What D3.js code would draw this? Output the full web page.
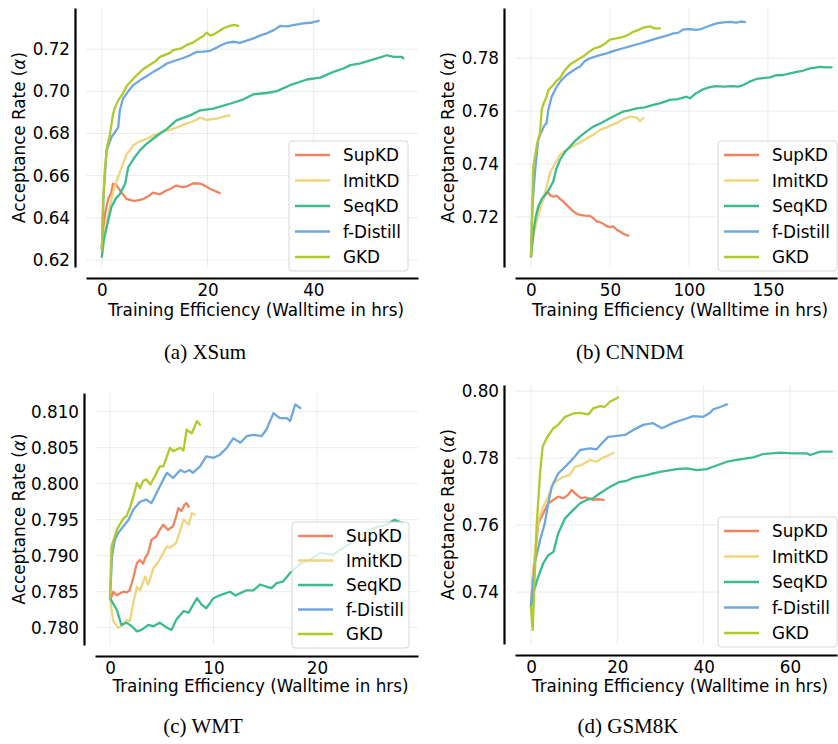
<!DOCTYPE html>
<html>
<head>
<meta charset="utf-8">
<script src="https://cdn.jsdelivr.net/npm/d3@7"></script>
<style>
  body { margin: 0; background: #fff; }
  svg { display: block; font-family: "DejaVu Sans", sans-serif; }
</style>
</head>
<body>
<svg id="chart" width="838" height="744"></svg>
<script>
// ---------- data ----------
const seriesNames = ["SupKD", "ImitKD", "SeqKD", "f-Distill", "GKD"];
const seriesColors = ["#ef8462", "#eed57e", "#3cbb8e", "#6fa8dc", "#b3c82c"];
const panelTitles = ["(a) XSum", "(b) CNNDM", "(c) WMT", "(d) GSM8K"];
const xLabel = "Training Efficiency (Walltime in hrs)";
const yLabelMain = "Acceptance Rate (";
const yLabelSym = "α";
const yLabelEnd = ")";

const xsumXTicks = [0, 20, 40];
const xsumYTicks = [0.62, 0.64, 0.66, 0.68, 0.70, 0.72];
const cnndmXTicks = [0, 50, 100, 150];
const cnndmYTicks = [0.72, 0.74, 0.76, 0.78];
const wmtXTicks = [0, 10, 20];
const wmtYTicks = [0.780, 0.785, 0.790, 0.795, 0.800, 0.805, 0.810];
const gsmXTicks = [0, 20, 40, 60];
const gsmYTicks = [0.74, 0.76, 0.78, 0.80];

// XSum
const supkdXsum = [[0,0.626],[0.3,0.636],[0.6,0.642],[1.2,0.649],[1.8,0.652],[2.1,0.6562],[2.8,0.6553],[3.7,0.652],[4.7,0.649],[5.4,0.6484],[6.2,0.6481],[7.0,0.6484],[7.8,0.6489],[8.8,0.6503],[9.7,0.652],[10.4,0.6515],[11,0.6512],[12.0,0.6527],[12.9,0.6537],[14.1,0.6553],[15.4,0.6545],[16.3,0.6552],[17.3,0.6564],[18.1,0.6563],[18.9,0.656],[19.8,0.6548],[20.5,0.6537],[21.4,0.6527],[22.3,0.6518]];
const imitkdXsum = [[0,0.626],[0.6,0.6338],[1.5,0.645],[2.1,0.652],[2.8,0.6576],[4.0,0.6656],[4.7,0.6703],[5.3,0.672],[5.9,0.6743],[7.2,0.6763],[8.5,0.6775],[9.7,0.679],[11,0.6802],[12.3,0.6814],[13.5,0.6822],[14.8,0.6835],[16,0.6848],[17.3,0.6858],[18.6,0.6876],[19.8,0.6864],[20.8,0.6868],[21.7,0.687],[23,0.688],[24.2,0.6886]];
const seqkdXsum = [[0,0.6215],[0.4,0.630],[0.9,0.6354],[1.8,0.645],[2.6,0.649],[3.4,0.6513],[4.4,0.6562],[5.0,0.664],[6.0,0.668],[7.2,0.672],[8.4,0.675],[9.7,0.6775],[11,0.680],[12.3,0.6822],[14.1,0.6862],[16.7,0.6886],[18.6,0.691],[21.1,0.6918],[24.2,0.6941],[26.8,0.6962],[28.7,0.6986],[31.2,0.6992],[33.1,0.7001],[35.6,0.7029],[38.8,0.7056],[41.3,0.7065],[43.8,0.7092],[45.7,0.7108],[47,0.7124],[48.9,0.7132],[51.4,0.7151],[53.9,0.7171],[55.2,0.7163],[56.8,0.7163],[57,0.7156]];
const fdistillXsum = [[0,0.625],[0.3,0.650],[0.9,0.672],[1.8,0.6782],[2.6,0.681],[3.1,0.683],[3.4,0.691],[4.0,0.6965],[5.0,0.700],[5.9,0.7029],[7.2,0.7052],[8.4,0.707],[9.7,0.7092],[11,0.711],[12.3,0.7132],[13.8,0.7145],[15.4,0.7158],[16.6,0.717],[17.9,0.7187],[19.2,0.7188],[20.5,0.7192],[22.3,0.7215],[23.6,0.723],[24.9,0.7235],[26.1,0.723],[27.4,0.724],[28.7,0.7251],[30,0.7265],[31.2,0.7275],[32.5,0.729],[33.7,0.731],[35,0.7308],[36.2,0.7314],[38.1,0.7322],[39.5,0.7325],[41,0.7334]];
const gkdXsum = [[0,0.625],[0.3,0.650],[0.6,0.664],[1.0,0.674],[1.5,0.679],[2.1,0.689],[2.5,0.6925],[3.1,0.6957],[4.0,0.699],[4.7,0.7025],[5.6,0.705],[6.6,0.7076],[7.8,0.7105],[8.5,0.7116],[10,0.714],[11,0.7163],[12.9,0.7182],[13.5,0.7195],[15,0.7203],[16,0.7219],[17.3,0.7232],[18.4,0.725],[19.2,0.7262],[19.8,0.7278],[20.5,0.7265],[21.2,0.727],[21.7,0.7278],[23,0.7299],[24.2,0.731],[25,0.7315],[25.8,0.731]];

// CNNDM
const supkdCnndm = [[0,0.705],[1.0,0.712],[2.5,0.7164],[4.0,0.720],[5.7,0.7239],[7.2,0.726],[8.9,0.7284],[11,0.7292],[12.5,0.728],[14.1,0.7277],[16.3,0.728],[18.4,0.7268],[20.5,0.7258],[23.5,0.724],[26.8,0.7221],[29,0.7212],[31,0.7208],[34,0.7205],[37.3,0.7204],[39.5,0.7195],[41.6,0.7183],[43.7,0.718],[45.8,0.7174],[48,0.7165],[50,0.7162],[52.1,0.7164],[54.2,0.7152],[56.3,0.7145],[59,0.7135],[61.6,0.7129]];
const imitkdCnndm = [[0,0.705],[2.0,0.714],[4.0,0.7195],[5.7,0.7227],[7.8,0.727],[9.9,0.7315],[12,0.7365],[15,0.740],[18.4,0.7434],[21.5,0.745],[24.7,0.746],[29,0.7475],[33.1,0.7488],[36,0.750],[39.4,0.751],[43.7,0.7529],[48,0.7538],[50,0.7545],[54.2,0.7554],[58,0.7568],[62.7,0.7579],[66.9,0.7575],[69,0.7562],[71.1,0.7573]];
const seqkdCnndm = [[0,0.705],[1.5,0.7139],[3.0,0.720],[4.6,0.7239],[7,0.727],[9.9,0.729],[12,0.731],[14.1,0.7334],[16,0.738],[18.4,0.7416],[21.5,0.7445],[24.7,0.7466],[28,0.7487],[31,0.7503],[35,0.7522],[39.4,0.7541],[43.5,0.7552],[47.9,0.7566],[53,0.7582],[58.4,0.7598],[62,0.7602],[66.9,0.761],[72,0.7614],[77.4,0.7623],[82,0.763],[88,0.7642],[93,0.7645],[98.5,0.7654],[100.6,0.7648],[104,0.7665],[109,0.7682],[113,0.769],[117.5,0.7694],[122,0.7692],[128,0.7694],[131,0.7692],[134.4,0.7698],[138,0.771],[142.8,0.7721],[147,0.7724],[151.3,0.7727],[155,0.7735],[159.7,0.7736],[164,0.7742],[168.2,0.7748],[172,0.7752],[176.6,0.7761],[180,0.7764],[183,0.7767],[187,0.7765],[190.3,0.7765]];
const fdistillCnndm = [[0,0.705],[1.0,0.725],[2.5,0.7365],[4.6,0.7491],[6.5,0.752],[8.5,0.7545],[9.9,0.7554],[11,0.7605],[13.1,0.7654],[16.3,0.7692],[19,0.7715],[22.6,0.7736],[26,0.775],[28.5,0.776],[31,0.7767],[34,0.7788],[37.3,0.7799],[42,0.7808],[47.9,0.7818],[53,0.7828],[58.4,0.7837],[63,0.7845],[69,0.7855],[74,0.7864],[79.6,0.7874],[85,0.7883],[90.1,0.7893],[93,0.7895],[96.4,0.7908],[101,0.7909],[104,0.7906],[107,0.7908],[112,0.792],[117.5,0.7931],[122,0.7935],[126,0.7937],[130,0.7934],[133,0.7938],[135.4,0.7936]];
const gkdCnndm = [[0,0.705],[1.5,0.739],[2.5,0.7428],[4.0,0.748],[5.7,0.7516],[6.8,0.7604],[7.8,0.7625],[9.9,0.7654],[11,0.7679],[14.1,0.7698],[16.3,0.7715],[18.4,0.7725],[21,0.775],[24.7,0.7776],[28,0.7788],[31,0.7799],[34,0.781],[37.3,0.7826],[40,0.7836],[43.7,0.7843],[47,0.7855],[50,0.787],[54,0.7874],[58.4,0.788],[61,0.7886],[64.8,0.7899],[68,0.7906],[71.1,0.7915],[75.3,0.792],[78,0.7912],[81.6,0.7912]];

// WMT
const supkdWmt = [[0,0.7841],[0.16,0.7843],[0.32,0.785],[0.65,0.7845],[1.0,0.7848],[1.3,0.785],[1.6,0.7849],[1.9,0.7852],[2.25,0.7869],[2.6,0.789],[2.9,0.7894],[3.2,0.7889],[3.4,0.7897],[3.7,0.7904],[4.0,0.7922],[4.5,0.7927],[4.8,0.7936],[5.15,0.7943],[5.6,0.7936],[6.1,0.7941],[6.4,0.7955],[6.6,0.7966],[6.9,0.7962],[7.2,0.7971],[7.4,0.7973],[7.6,0.7968]];
const imitkdWmt = [[0,0.7841],[0.32,0.7809],[0.8,0.78],[1.1,0.7802],[1.6,0.7811],[1.9,0.7809],[2.25,0.7834],[2.6,0.7857],[2.9,0.7852],[3.4,0.7871],[3.7,0.786],[4.2,0.7883],[4.7,0.7892],[5.15,0.7904],[5.5,0.7913],[5.8,0.7911],[6.4,0.7918],[6.8,0.7936],[7.1,0.795],[7.6,0.7943],[7.9,0.7959],[8.2,0.7957]];
const seqkdWmt = [[0,0.7841],[0.65,0.7825],[1.1,0.7804],[1.6,0.7807],[2.1,0.7802],[2.6,0.7795],[3.05,0.7797],[3.7,0.7804],[4.2,0.7802],[4.8,0.7807],[5.5,0.78],[5.95,0.7797],[6.4,0.7811],[7.1,0.7823],[7.6,0.7821],[8.4,0.7841],[8.85,0.7832],[9.3,0.7827],[10,0.7841],[10.6,0.7845],[11.6,0.785],[12.1,0.7845],[12.6,0.7848],[13.2,0.7852],[13.85,0.7852],[14.5,0.786],[15.1,0.7857],[15.6,0.7855],[16.1,0.7862],[16.7,0.7864],[17.4,0.7876],[18.4,0.7889],[19.3,0.7894],[20.3,0.7904],[21.6,0.7901],[22.2,0.7908],[23.2,0.7917],[24.2,0.7929],[25.1,0.7936],[26.1,0.7941],[26.7,0.7943],[27.5,0.795],[28.3,0.7945]];
const fdistillWmt = [[0,0.7841],[0.2,0.790],[0.48,0.7922],[0.8,0.7932],[1.3,0.7941],[1.8,0.795],[2.25,0.7964],[2.9,0.7975],[3.5,0.7978],[4.0,0.7973],[4.5,0.7987],[5.15,0.8006],[5.5,0.8015],[6.1,0.8008],[6.8,0.8019],[7.2,0.8016],[7.7,0.8019],[8.0,0.8015],[8.7,0.8024],[9.3,0.8038],[10,0.8036],[10.6,0.804],[11.3,0.805],[11.9,0.8063],[12.6,0.8057],[13.2,0.8066],[13.85,0.8068],[14.65,0.8066],[15.1,0.8075],[15.8,0.8098],[16.4,0.8091],[17.1,0.8091],[17.4,0.8087],[17.9,0.811],[18.4,0.8105]];
const gkdWmt = [[0,0.7841],[0.16,0.7913],[0.65,0.7936],[1.3,0.7952],[1.6,0.7955],[2.0,0.797],[2.25,0.7982],[2.6,0.8001],[2.9,0.7994],[3.2,0.8004],[3.5,0.8006],[3.9,0.7999],[4.5,0.8015],[4.8,0.8024],[5.15,0.8024],[5.5,0.8038],[5.8,0.805],[6.1,0.8045],[6.5,0.8048],[6.8,0.805],[7.1,0.8046],[7.4,0.8075],[7.9,0.807],[8.4,0.8087],[8.7,0.8082]];

// GSM8K
const supkdGsm = [[0,0.7356],[0.5,0.7456],[1.7,0.7605],[2.85,0.7635],[4.0,0.7665],[5.2,0.7675],[6.3,0.7685],[7.5,0.768],[8.6,0.769],[9.4,0.7705],[10.6,0.769],[11.7,0.768],[12.5,0.7683],[13.3,0.768],[14.4,0.7675],[15.5,0.7677],[16.8,0.7675]];
const imitkdGsm = [[0,0.7356],[0.9,0.7516],[1.7,0.7615],[2.85,0.7655],[4.0,0.7685],[5.2,0.7724],[6.3,0.7734],[7.5,0.7744],[9.0,0.7749],[10.2,0.7774],[11.7,0.7779],[13.7,0.7794],[15.2,0.7789],[16.8,0.7802],[18,0.7808],[19.1,0.7816]];
const seqkdGsm = [[0,0.7356],[0.5,0.7396],[1.7,0.7446],[2.85,0.7486],[4.0,0.751],[5.2,0.752],[6.3,0.7575],[7.9,0.762],[9.4,0.764],[11.4,0.7665],[12.9,0.7675],[14.4,0.768],[16,0.7695],[18.3,0.7714],[20.6,0.7729],[22.2,0.7732],[23.7,0.7741],[26.8,0.7749],[28.3,0.7754],[29.9,0.7759],[33.8,0.7767],[36.1,0.7769],[38.4,0.7764],[40.7,0.7767],[42.2,0.7774],[45.4,0.7789],[48.4,0.7796],[51.5,0.7802],[53.8,0.7812],[57.7,0.7816],[60.8,0.7814],[63.9,0.7814],[64.7,0.7809],[67,0.7819],[69.7,0.7819]];
const fdistillGsm = [[0,0.7366],[0.9,0.7486],[2.1,0.7555],[3.2,0.7605],[4.0,0.7665],[4.8,0.7714],[6.3,0.7754],[8.3,0.7779],[9.8,0.7799],[11.4,0.7824],[13.7,0.7829],[15.2,0.7826],[16.5,0.7845],[17.9,0.7863],[19.9,0.7866],[21.8,0.7869],[23.7,0.7884],[26,0.7899],[28.3,0.7904],[30.3,0.7889],[33,0.7905],[35.3,0.7915],[37.6,0.7925],[39.9,0.7923],[41.5,0.7935],[42.2,0.7945],[44,0.7953],[45.4,0.796]];
const gkdGsm = [[0,0.7356],[0.4,0.7287],[1.3,0.7595],[2.1,0.7754],[2.7,0.7834],[3.6,0.7859],[5.2,0.7889],[6.3,0.7899],[7.9,0.7923],[9.8,0.7933],[11.4,0.7935],[13.3,0.793],[14.4,0.7948],[16,0.7955],[17.1,0.7953],[18.3,0.7968],[20.2,0.7981]];

// ---------- layout ----------
const panels = [
  { title: panelTitles[0], series: [supkdXsum, imitkdXsum, seqkdXsum, fdistillXsum, gkdXsum],
    xTicks: xsumXTicks, yTicks: xsumYTicks, xDom: [-3, 59.8], yDom: [0.6167, 0.7395], fmt: ".2f",
    plot: { l: 86, r: 418, t: 8, b: 267 }, spineOff: 11, yLabelX: 19, xLabelY: 316,
    legend: { x: 289, y: 141, w: 119, h: 130 }, caption: { x: 205, y: 359 } },
  { title: panelTitles[1], series: [supkdCnndm, imitkdCnndm, seqkdCnndm, fdistillCnndm, gkdCnndm],
    xTicks: cnndmXTicks, yTicks: cnndmYTicks, xDom: [-10.1, 193.7], yDom: [0.7011, 0.7989], fmt: ".2f",
    plot: { l: 515, r: 837, t: 8, b: 267 }, spineOff: 11, yLabelX: 448, xLabelY: 316,
    legend: { x: 718, y: 141, w: 119, h: 130 }, caption: { x: 630, y: 359 } },
  { title: panelTitles[2], series: [supkdWmt, imitkdWmt, seqkdWmt, fdistillWmt, gkdWmt],
    xTicks: wmtXTicks, yTicks: wmtYTicks, xDom: [-1.45, 29.76], yDom: [0.7776, 0.8126], fmt: ".3f",
    plot: { l: 95, r: 418, t: 393, b: 645 }, spineOff: 11, yLabelX: 19, xLabelY: 692,
    legend: { x: 292, y: 522, w: 117, h: 126 }, caption: { x: 203, y: 733 } },
  { title: panelTitles[3], series: [supkdGsm, imitkdGsm, seqkdGsm, fdistillGsm, gkdGsm],
    xTicks: gsmXTicks, yTicks: gsmYTicks, xDom: [-3.7, 70.9], yDom: [0.7245, 0.8018], fmt: ".2f",
    plot: { l: 515, r: 837, t: 385, b: 644 }, spineOff: 11, yLabelX: 448, xLabelY: 692,
    legend: { x: 718, y: 517, w: 119, h: 130 }, caption: { x: 628, y: 733 } }
];

const svg = d3.select("#chart");
const FS = 16.8;

panels.forEach(p => {
  const g = svg.append("g");
  const x = d3.scaleLinear().domain(p.xDom).range([p.plot.l, p.plot.r]);
  const y = d3.scaleLinear().domain(p.yDom).range([p.plot.b, p.plot.t]);

  // grid
  g.append("g").selectAll("line").data(p.xTicks).join("line")
    .attr("x1", d => x(d)).attr("x2", d => x(d))
    .attr("y1", p.plot.t).attr("y2", p.plot.b)
    .attr("stroke", "#ebebeb").attr("stroke-width", 1);
  g.append("g").selectAll("line").data(p.yTicks).join("line")
    .attr("y1", d => y(d)).attr("y2", d => y(d))
    .attr("x1", p.plot.l).attr("x2", p.plot.r)
    .attr("stroke", "#ebebeb").attr("stroke-width", 1);

  // lines
  const line = d3.line().x(d => x(d[0])).y(d => y(d[1]));
  p.series.forEach((s, i) => {
    g.append("path").datum(s).attr("d", line)
      .attr("fill", "none").attr("stroke", seriesColors[i])
      .attr("stroke-width", 2.3).attr("stroke-linejoin", "round").attr("stroke-linecap", "round");
  });

  // axes (offset spines)
  const ya = g.append("g").attr("transform", `translate(${p.plot.l - p.spineOff},0)`)
    .call(d3.axisLeft(y).tickValues(p.yTicks).tickFormat(d3.format(p.fmt)).tickSize(0).tickSizeOuter(0).tickPadding(5));
  const xa = g.append("g").attr("transform", `translate(0,${p.plot.b + p.spineOff})`)
    .call(d3.axisBottom(x).tickValues(p.xTicks).tickFormat(d3.format("d")).tickSize(0).tickSizeOuter(0).tickPadding(6));
  [ya, xa].forEach(a => {
    a.attr("font-family", "DejaVu Sans").attr("font-size", FS);
    a.select(".domain").attr("stroke", "#000").attr("stroke-width", 2.2);
    a.selectAll("text").attr("fill", "#000");
  });

  // axis labels
  g.append("text").attr("x", (p.plot.l + p.plot.r) / 2 + 4).attr("y", p.xLabelY)
    .attr("text-anchor", "middle").attr("font-size", FS).text(xLabel);
  const yl = g.append("text")
    .attr("transform", `translate(${p.yLabelX},${(p.plot.t + p.plot.b) / 2}) rotate(-90)`)
    .attr("text-anchor", "middle").attr("dominant-baseline", "central").attr("font-size", FS);
  yl.append("tspan").text(yLabelMain);
  yl.append("tspan").attr("font-style", "italic").text(yLabelSym);
  yl.append("tspan").text(yLabelEnd);

  // legend
  const L = p.legend;
  const lg = g.append("g");
  lg.append("rect").attr("x", L.x).attr("y", L.y).attr("width", L.w).attr("height", L.h)
    .attr("rx", 3).attr("fill", "#fff").attr("fill-opacity", 0.8)
    .attr("stroke", "#d6d6d6").attr("stroke-width", 1);
  seriesNames.forEach((n, i) => {
    const cy = L.y + 14 + i * (L.h - 28) / 4;
    lg.append("line").attr("x1", L.x + 6).attr("x2", L.x + 41).attr("y1", cy).attr("y2", cy)
      .attr("stroke", seriesColors[i]).attr("stroke-width", 2.3);
    lg.append("text").attr("x", L.x + 54).attr("y", cy).attr("dominant-baseline", "central")
      .attr("font-size", FS).text(n);
  });

  // caption
  g.append("text").attr("x", p.caption.x).attr("y", p.caption.y)
    .attr("text-anchor", "middle").style("font-family", "'Liberation Serif', serif").style("font-size", "21px")
    .text(p.title);
});
</script>
</body>
</html>
